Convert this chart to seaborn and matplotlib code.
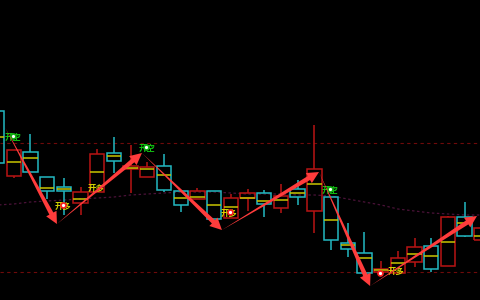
import numpy as np
import pandas as pd
import matplotlib
matplotlib.use("Agg")
import matplotlib.pyplot as plt
import seaborn as sns

# ---- data (price units) ----
opens  = [189, 124, 148, 123, 113, 97, 108, 147, 131, 123, 134, 109, 101, 109, 82,
          102, 107, 92, 111, 89, 103, 57, 47, 28, 27, 38, 54, 34, 83, 60]
closes = [137, 150, 128, 109, 109, 108, 146, 139, 134, 133, 110, 95, 109, 81, 102,
          107, 96, 104, 103, 131, 60, 51, 27, 31, 42, 53, 31, 83, 64, 72]
highs  = [189, 150, 166, 123, 122, 113, 151, 163, 155, 138, 146, 109, 112, 109, 106,
          111, 110, 116, 120, 175, 103, 77, 68, 39, 49, 62, 62, 84, 98, 72]
lows   = [137, 122, 128, 101, 85, 85, 108, 127, 107, 123, 108, 88, 101, 81, 82,
          89, 83, 87, 95, 67, 50, 43, 27, 24, 27, 33, 28, 34, 63, 60]
mids   = [163, 138, 142, 112, 111, 101, 128, 144, 132, 131, 125, 102, 103, 95, 93,
          102, 99, 100, 107, 116, 80, 55, 42, 30, 37, 46, 44, 58, 77, 64]
ma     = [95, 96, 98, 99, 100, 101, 102, 103, 105, 106, 107, 108, 108, 108, 107,
          106, 106, 106, 105, 105, 104, 101, 98, 95, 91, 89, 87, 86, 85, 85]
levels = [157, 28]

zig_x = [0.5, 3.59, 8.68, 13.47, 19.28, 22.34, 28.74]
zig_y = [172, 76, 147, 70, 128, 14, 84]

label_x = [0.96, 3.95, 5.93, 8.98, 13.89, 19.94, 23.89]
label_y = [163, 94, 112, 152, 87, 110, 29]
label_t = ["开空", "开多", "开多", "开空", "开多", "开空", "开多"]

dot_x = [0.96, 3.95, 8.95, 13.95, 19.95, 22.95]
dot_y = [164, 95, 153, 88, 111, 27]
dot_k = ["short", "long", "short", "long", "short", "long"]

# ---- style ----
sns.set_style("dark", {"axes.facecolor": "black", "figure.facecolor": "black",
                       "axes.edgecolor": "black", "grid.color": "black"})
plt.rcParams["font.family"] = ["Noto Sans CJK SC", "DejaVu Sans"]

RED = "#b81414"
CYAN = "#22b8c2"
YEL = "#c8c400"
ARROW = "#ff3c3c"

fig = plt.figure(figsize=(4.8, 3.0), dpi=100)
ax = fig.add_axes([0, 0, 1, 1])
ax.set_facecolor("black")

n = len(opens)
idx = np.arange(n)
df = pd.DataFrame({"i": idx, "open": opens, "close": closes, "high": highs,
                   "low": lows, "mid": mids, "ma": ma})
df["up"] = df["close"] >= df["open"]
df["top"] = df[["open", "close"]].max(axis=1)
df["bot"] = df[["open", "close"]].min(axis=1)
colors = [RED if u else CYAN for u in df["up"]]

# levels
for lv in levels:
    ax.axhline(lv, color="#6e0a0a", lw=0.8, ls=(0, (3, 3)), zorder=1)

# moving average dotted curve
sns.lineplot(data=df, x="i", y="ma", ax=ax, color="#4a1238", lw=0.9,
             linestyle=(0, (2, 2)), zorder=1, legend=False)

# wicks
ax.vlines(df["i"], df["top"], df["high"], colors=colors, lw=1.1, zorder=2)
ax.vlines(df["i"], df["low"], df["bot"], colors=colors, lw=1.1, zorder=2)
# bodies
w = 0.86
ax.bar(df["i"], df["top"] - df["bot"], bottom=df["bot"], width=w, fill=False,
       edgecolor=colors, lw=1.1, zorder=3)
# mid lines
ax.hlines(df["mid"], df["i"] - w / 2, df["i"] + w / 2, colors=YEL, lw=1.1, zorder=3)

# labels
for x, y, t in zip(label_x, label_y, label_t):
    c = "#12c812" if t == "开空" else "#d6d600"
    ax.text(x, y, t, color=c, fontsize=6.0, ha="center", va="center",
            fontweight="bold", zorder=5)

# dots
for x, y, k in zip(dot_x, dot_y, dot_k):
    c = "#10b010" if k == "short" else "#ff2020"
    ax.plot([x], [y], marker="o", ms=3.8, color=c, mec=c, zorder=6)
    ax.plot([x], [y], marker="o", ms=1.3, color="white", mec="white", zorder=7)

# zigzag arrows: tapered shaft (wedge, drawn from tip back to start) + head
for k in range(len(zig_x) - 1):
    start = (zig_x[k], zig_y[k])
    tip = (zig_x[k + 1], zig_y[k + 1])
    ax.annotate("", xy=start, xytext=tip,
                arrowprops=dict(arrowstyle="wedge,tail_width=0.34,shrink_factor=0.5",
                                color=ARROW, shrinkA=6, shrinkB=0, lw=0),
                zorder=8)
    ax.annotate("", xy=tip, xytext=start,
                arrowprops=dict(arrowstyle="-|>,head_length=0.85,head_width=0.42",
                                color=ARROW, shrinkA=0, shrinkB=0, lw=0.01),
                zorder=8)

ax.set_xlim(0.18, 28.92)
ax.set_ylim(0, 300)
ax.set_axis_off()

fig.savefig("out.png", dpi=100, facecolor="black")
